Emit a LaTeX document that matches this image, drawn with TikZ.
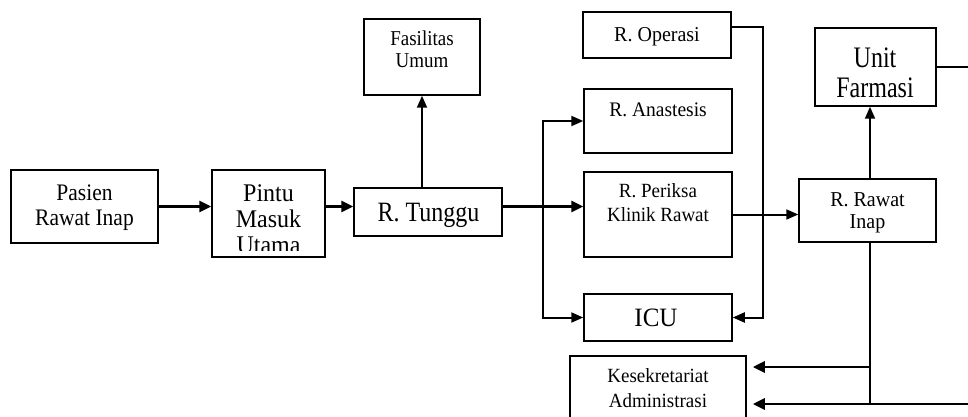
\documentclass[tikz,border=0pt]{standalone}
\usepackage{fontspec}
\setmainfont{Liberation Serif}
\usetikzlibrary{arrows.meta}

\begin{document}
\begin{tikzpicture}[x=1pt,y=-1pt,
  box/.style={draw, line width=1.5pt, rectangle, inner sep=0pt},
  txt/.style={inner sep=0pt, align=center, anchor=base, transform shape, yscale=1.06},
  link/.style={line width=2pt, -{Triangle[length=12pt,width=10pt]}},
  heavy/.style={line width=2.8pt, -{Triangle[length=12pt,width=11pt]}},
  plain/.style={line width=1.8pt}]

\useasboundingbox (0,0) rectangle (968,417);
\clip (0,0) rectangle (968,417);

% boxes
\node[box, minimum width=147pt, minimum height=73pt] (pasien) at (84.5,206.5) {};
\node[box, minimum width=113pt, minimum height=87pt] (pintu) at (268.5,213.5) {};
\node[box, minimum width=148pt, minimum height=48pt] (tunggu) at (428,212) {};
\node[box, minimum width=116pt, minimum height=76pt] (fasil) at (422,57) {};
\node[box, minimum width=148pt, minimum height=46pt] (oper) at (657,35) {};
\node[box, minimum width=148pt, minimum height=64pt] (anas) at (658,121) {};
\node[box, minimum width=148pt, minimum height=85pt] (periksa) at (658,214.5) {};
\node[box, minimum width=148pt, minimum height=47pt] (icu) at (658,317.5) {};
\node[box, minimum width=176pt, minimum height=80pt] (kes) at (658,396) {};
\node[box, minimum width=121pt, minimum height=78pt] (farm) at (875.5,67) {};
\node[box, minimum width=137pt, minimum height=63pt] (rawat) at (867.5,210.5) {};

% labels (anchored at the baseline of their last line)
\node[txt, yscale=1.04, font=\fontsize{21.5}{22.5}\selectfont] (pasientext) at (84.5,225) {Pasien\\Rawat Inap};
\begin{scope}
  \clip (212,170) rectangle (325,250);
  \node[txt, font=\fontsize{24}{24.5}\selectfont] (pintutext) at (268.5,253) {Pintu\\Masuk\\Utama};
\end{scope}
\node[txt, yscale=1.1, font=\fontsize{24}{26}\selectfont] (tunggutext) at (428.5,221.7) {R. Tunggu};
\node[txt, yscale=1.05, font=\fontsize{19}{20}\selectfont] (fasiltext) at (422,68) {Fasilitas\\Umum};
\node[txt, font=\fontsize{20}{22}\selectfont] (opertext) at (657,42) {R. Operasi};
\node[txt, font=\fontsize{19.5}{22}\selectfont] (anastext) at (658,116.5) {R. Anastesis};
\node[txt, font=\fontsize{19}{22.5}\selectfont] (periksatext) at (658,221) {R. Periksa\\Klinik Rawat};
\node[txt, font=\fontsize{25}{27}\selectfont] (icutext) at (656,326) {ICU};
\node[txt, font=\fontsize{19}{23}\selectfont] (kestext) at (658,407) {Kesekretariat\\Administrasi};
\node[txt, yscale=1.17, font=\fontsize{24}{24}\selectfont] (farmtext) at (875,97) {Unit\\Farmasi};
\node[txt, font=\fontsize{20}{21}\selectfont] (rawattext) at (867.5,228.3) {R. Rawat\\Inap};

% helper points
\coordinate (split) at (543,207);
\coordinate (oprail) at (763,0);
\coordinate (vx) at (870,0);
\coordinate (edge) at (968,0);
\coordinate (midrow) at (0,367);
\coordinate (lowrow) at (0,404);

% main flow
\draw[heavy] (pasien.east) -- (pasien.east -| pintu.west);
\draw[heavy] (pintu.east |- pasien.east) -- (tunggu.west |- pasien.east);
\draw[heavy] (tunggu.east |- pasien.east) -- (periksa.west |- pasien.east);
\draw[link] (fasil.south |- tunggu.north) -- (fasil.south);

% branch to anastesis and ICU
\draw[link] (split) |- (anas.west);
\draw[link] (split) |- (icu.west);

% operasi back to ICU
\draw[link] ([yshift=8pt]oper.east) -- ([yshift=8pt]oper.east -| oprail) |- (icu.east);

% periksa to rawat inap, up to the pharmacy
\draw[link] (periksa.east) -- (periksa.east -| rawat.west);
\draw[link] (vx |- rawat.north) -- (vx |- farm.south);
\draw[plain] (farm.east) -- (farm.east -| edge);

% rawat inap down to administration
\draw[plain] (vx |- rawat.south) -- (vx |- lowrow);
\draw[heavy, shorten >=6pt] (vx |- midrow) -- (kes.east |- midrow);
\draw[heavy, shorten >=6pt] (edge |- lowrow) -- (kes.east |- lowrow);

\end{tikzpicture}
\end{document}
